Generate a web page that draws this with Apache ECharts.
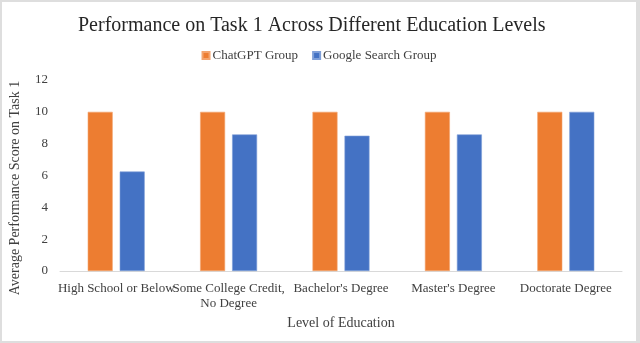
<!DOCTYPE html>
<html>
<head>
<meta charset="utf-8">
<script src="https://cdn.jsdelivr.net/npm/echarts@6/dist/echarts.min.js"></script>
<style>
html,body{margin:0;padding:0;background:#fff;}
#wrap{width:640px;height:343px;box-sizing:border-box;border:2px solid #dedede;border-right-width:4px;background:#fff;overflow:hidden;}
#chart{width:634px;height:339px;}
</style>
</head>
<body>
<div id="wrap"><div id="chart"></div></div>
<script>
const categories = ["High School or Below", "Some College Credit,\nNo Degree", "Bachelor's Degree", "Master's Degree", "Doctorate Degree"];
const chatgptScores = [10, 10, 10, 10, 10];
const googleScores = [6.25, 8.58, 8.5, 8.58, 10];
const yTicks = [0, 2, 4, 6, 8, 10, 12];

const font = "'Liberation Serif', 'Times New Roman', serif";
const chart = echarts.init(document.getElementById('chart'), null, {renderer: 'canvas'});
chart.setOption({
  animation: false,
  textStyle: {fontFamily: font},
  title: {
    text: 'Performance on Task 1 Across Different Education Levels',
    left: 71, top: 9,
    textStyle: {fontFamily: font, fontSize: 20, fontWeight: 'normal', color: '#262626'}
  },
  legend: {
    top: 42, left: 'center',
    itemWidth: 7, itemHeight: 7, itemGap: 14,
    icon: 'rect',
    textStyle: {fontFamily: font, fontSize: 13, color: '#404040', padding: [0,0,0,-2]},
    data: ['ChatGPT Group', 'Google Search Group']
  },
  grid: {left: 58, right: 14, top: 78, bottom: 70, containLabel: false},
  graphic: [{
    type: 'text',
    rotation: Math.PI / 2,
    x: 13, y: 186,
    style: {
      text: 'Average Performance Score on Task 1',
      fontFamily: font, fontSize: 14, fill: '#404040',
      align: 'center', verticalAlign: 'middle'
    }
  }],
  xAxis: {
    type: 'category',
    data: categories,
    name: 'Level of Education',
    nameLocation: 'middle', nameGap: 43,
    nameTextStyle: {fontFamily: font, fontSize: 14, color: '#404040'},
    axisLine: {lineStyle: {color: '#d9d9d9', width: 1}},
    axisTick: {show: false},
    axisLabel: {fontFamily: font, fontSize: 13, color: '#404040', margin: 10, lineHeight: 15, interval: 0}
  },
  yAxis: {
    type: 'value',
    min: 0, max: 12, interval: 2,
    axisLine: {show: false},
    axisTick: {show: false},
    splitLine: {show: false},
    axisLabel: {fontFamily: font, fontSize: 13, color: '#404040', margin: 12,
      formatter: v => yTicks.includes(v) ? String(v) : ''}
  },
  series: [
    {
      name: 'ChatGPT Group', type: 'bar', data: chatgptScores,
      barWidth: 25, barGap: '28%',
      itemStyle: {color: '#ED7D31', borderColor: '#F3A46E', borderWidth: 0.6}
    },
    {
      name: 'Google Search Group', type: 'bar', data: googleScores,
      barWidth: 25,
      itemStyle: {color: '#4472C4', borderColor: '#7F9FD8', borderWidth: 0.6}
    }
  ]
});
</script>
</body>
</html>
